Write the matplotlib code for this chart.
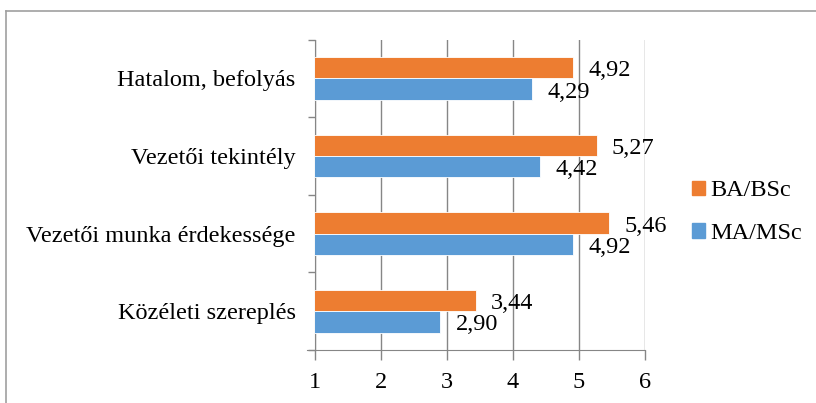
import matplotlib.pyplot as plt
import matplotlib.patches as mpatches
import numpy as np

# Data
categories = ["Közéleti szereplés", "Vezetői munka érdekessége", "Vezetői tekintély", "Hatalom, befolyás"]
ba_bsc = [3.44, 5.46, 5.27, 4.92]
ma_msc = [2.90, 4.92, 4.42, 4.29]
series_names = ["BA/BSc", "MA/MSc"]
colors = ["#ED7D31", "#5B9BD5"]

plt.rcParams['font.family'] = ['Liberation Serif', 'DejaVu Serif']
fs = 17.5

fig = plt.figure(figsize=(8.16, 4.03), dpi=100)
ax = fig.add_axes([0.386, 0.1315, 0.404, 0.77])

y = np.arange(len(categories))
h = 0.275
ax.barh(y + h / 2, ba_bsc, height=h, color=colors[0], edgecolor='white', linewidth=0.6, zorder=3)
ax.barh(y - h / 2, ma_msc, height=h, color=colors[1], edgecolor='white', linewidth=0.6, zorder=3)

for i in range(len(categories)):
    ax.text(ba_bsc[i] + 0.23, y[i] + h / 2 - 0.04, f"{ba_bsc[i]:.2f}".replace(".", ","),
            va="center", ha="left", fontsize=fs)
    ax.text(ma_msc[i] + 0.23, y[i] - h / 2 - 0.04, f"{ma_msc[i]:.2f}".replace(".", ","),
            va="center", ha="left", fontsize=fs)

ax.set_xlim(1, 6)
ax.set_ylim(-0.5, len(categories) - 0.5)
ax.set_xticks([1, 2, 3, 4, 5, 6])
ax.set_yticks(y)
ax.set_yticklabels(categories, fontsize=fs)
ax.set_yticks(np.arange(-0.5, len(categories), 1), minor=True)
ax.tick_params(axis='y', which='major', length=0, pad=14)
ax.tick_params(axis='y', which='minor', length=5, color='#868686', width=1)
ax.tick_params(axis='x', length=7, color='#868686', width=1, labelsize=fs, pad=9)
ax.grid(axis='x', color='#868686', linewidth=1, zorder=0)

for s in ['top', 'right']:
    ax.spines[s].set_visible(False)
ax.spines['left'].set_color('#868686')
ax.spines['bottom'].set_color('#868686')
ax.spines['bottom'].set_bounds(0.88, 6)

handles = [mpatches.Patch(color=colors[0], label=series_names[0]),
           mpatches.Patch(color=colors[1], label=series_names[1])]
fig.legend(handles=handles, loc='center left', bbox_to_anchor=(0.821, 0.473),
           frameon=False, fontsize=fs, handlelength=0.55, handleheight=0.55,
           handletextpad=0.22, labelspacing=0.9)

# outer frame
fig.add_artist(plt.Line2D([0.007, 0.007], [0, 0.973], color='#A0A0A0', lw=1.2, transform=fig.transFigure))
fig.add_artist(plt.Line2D([0.007, 1], [0.973, 0.973], color='#A0A0A0', lw=1.2, transform=fig.transFigure))

fig.savefig("out.png", dpi=100)
